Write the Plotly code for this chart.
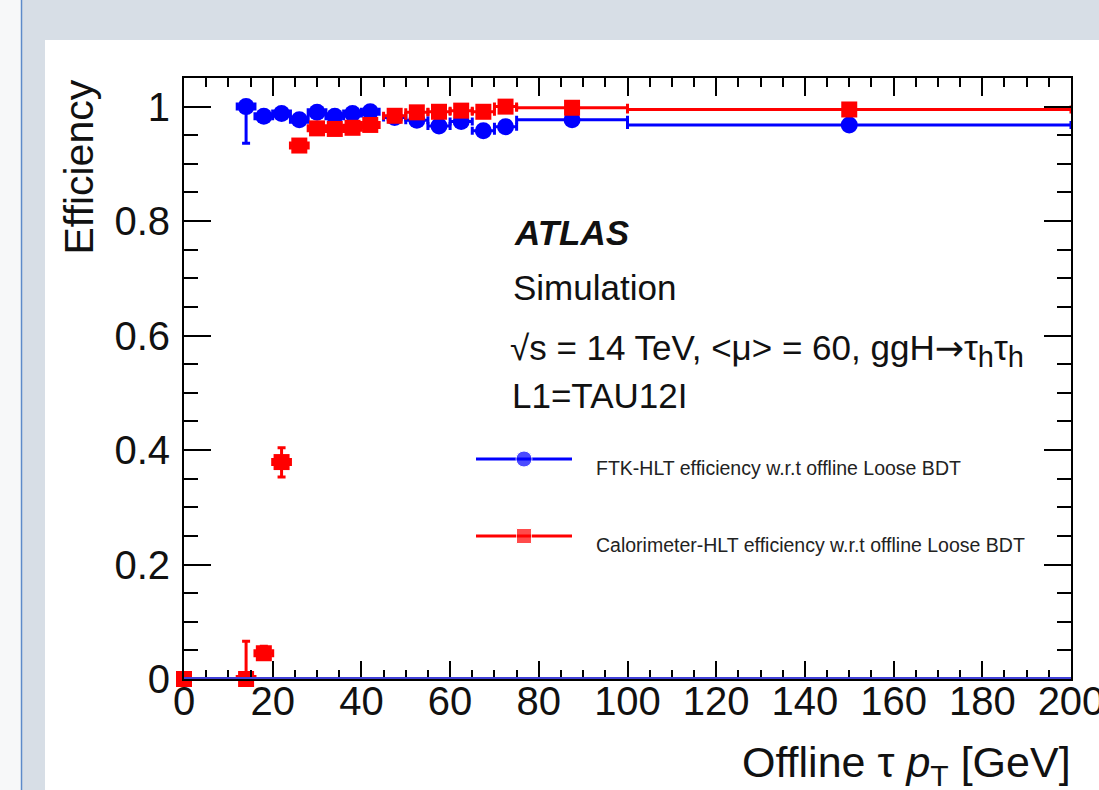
import plotly.graph_objects as go

# ---------------- data ----------------
ftk_pt = [14, 18, 22, 26, 30, 34, 38, 42, 47.5, 52.5, 57.5, 62.5, 67.5, 72.5, 87.5, 150]
ftk_pt_halfwidth = [2, 2, 2, 2, 2, 2, 2, 2, 2.5, 2.5, 2.5, 2.5, 2.5, 2.5, 12.5, 50]
ftk_eff = [1.0, 0.983, 0.988, 0.977, 0.990, 0.983, 0.988, 0.991, 0.981, 0.976,
           0.966, 0.974, 0.958, 0.965, 0.977, 0.968]
ftk_err_lo = [0.064, 0.006, 0.005, 0.006, 0.004, 0.004, 0.004, 0.004, 0.005, 0.005,
              0.006, 0.006, 0.010, 0.008, 0.004, 0.006]
ftk_err_hi = [0.0, 0.005, 0.004, 0.005, 0.004, 0.004, 0.004, 0.004, 0.005, 0.005,
              0.006, 0.006, 0.009, 0.008, 0.004, 0.005]

calo_pt = [0, 14, 18, 22, 26, 30, 34, 38, 42, 47.5, 52.5, 57.5, 62.5, 67.5, 72.5, 87.5, 150]
calo_pt_halfwidth = [0, 2, 2, 2, 2, 2, 2, 2, 2, 2.5, 2.5, 2.5, 2.5, 2.5, 2.5, 12.5, 50]
calo_eff = [0.0, 0.0, 0.045, 0.379, 0.932, 0.962, 0.961, 0.963, 0.968, 0.984, 0.990,
            0.991, 0.993, 0.991, 1.0, 0.998, 0.995]
calo_err_lo = [0.0, 0.0, 0.010, 0.026, 0.008, 0.006, 0.006, 0.005, 0.005, 0.004, 0.004,
               0.004, 0.004, 0.004, 0.002, 0.002, 0.002]
calo_err_hi = [0.0, 0.066, 0.012, 0.025, 0.008, 0.006, 0.006, 0.005, 0.005, 0.004, 0.004,
               0.004, 0.004, 0.004, 0.0, 0.002, 0.002]

x_ticks = [0, 20, 40, 60, 80, 100, 120, 140, 160, 180, 200]
y_ticks = [0, 0.2, 0.4, 0.6, 0.8, 1.0]
y_tick_labels = ["0", "0.2", "0.4", "0.6", "0.8", "1"]

legend_labels = ["FTK-HLT efficiency w.r.t offline Loose BDT",
                 "Calorimeter-HLT efficiency w.r.t offline Loose BDT"]

BLUE = "#0000ff"
RED = "#ff0000"
FONT = "Liberation Sans, Arial, Helvetica, sans-serif"

# ---------------- layout geometry (pixels) ----------------
W, H = 1099, 790
L, R, T, B = 184, 1071, 78, 679
pw, ph = R - L, B - T


def px(xp):
    return (xp - L) / pw


def py(yp):
    return (B - yp) / ph


fig = go.Figure()

fig.add_trace(go.Scatter(
    x=ftk_pt, y=ftk_eff, mode="markers", name=legend_labels[0],
    marker=dict(symbol="circle", size=17, color=BLUE),
    error_x=dict(type="data", array=ftk_pt_halfwidth, color=BLUE, thickness=3, width=4),
    error_y=dict(type="data", symmetric=False, array=ftk_err_hi, arrayminus=ftk_err_lo,
                 color=BLUE, thickness=3, width=4),
    showlegend=False, cliponaxis=True,
))

fig.add_trace(go.Scatter(
    x=calo_pt, y=calo_eff, mode="markers", name=legend_labels[1],
    marker=dict(symbol="square", size=16, color=RED),
    error_x=dict(type="data", array=calo_pt_halfwidth, color=RED, thickness=3, width=4),
    error_y=dict(type="data", symmetric=False, array=calo_err_hi, arrayminus=calo_err_lo,
                 color=RED, thickness=3, width=4),
    showlegend=False, cliponaxis=False,
))

# manual legend on an overlaid unit axis
leg_x = [px(476), px(524), px(572)]
for col, sym, ypix in [(BLUE, "circle", 459), (RED, "square", 536)]:
    fig.add_trace(go.Scatter(
        x=leg_x, y=[py(ypix)] * 3, xaxis="x2", yaxis="y2", mode="lines+markers",
        line=dict(color=col, width=3),
        marker=dict(symbol=sym, size=[0, 15 if sym == "square" else 16, 0], color=col),
        showlegend=False, hoverinfo="skip",
    ))

shapes = [
    # white panel
    dict(type="rect", xref="paper", yref="paper", x0=px(45), x1=px(1120), y0=py(820), y1=py(40),
         fillcolor="white", line=dict(width=0), layer="below"),
    # left strip
    dict(type="rect", xref="paper", yref="paper", x0=px(-20), x1=px(21), y0=py(820), y1=py(-20),
         fillcolor="#f7f8f9", line=dict(width=0), layer="below"),
    dict(type="line", xref="paper", yref="paper", x0=px(21.5), x1=px(21.5), y0=py(820), y1=py(-20),
         line=dict(color="#5d8ac9", width=1.5), layer="below"),
    # blue line along zero
    dict(type="line", xref="x", yref="y", x0=0, x1=200, y0=0, y1=0,
         line=dict(color="#4040d8", width=4), layer="above"),
]

ARROW = '<span style="font-family:DejaVu Sans">→</span>'
SUBH = '<sub><span style="font-size:29px">h</span></sub>'
annotations = [
    dict(text="<b><i>ATLAS</i></b>", x=px(512), y=py(232)),
    dict(text="Simulation", x=px(511), y=py(287)),
    dict(text="√s = 14 TeV, <μ> = 60, ggH" + ARROW + "τ" + SUBH + "τ" + SUBH,
         x=px(508), y=py(350)),
    dict(text="L1=TAU12I", x=px(510), y=py(395)),
]
for a in annotations:
    a.update(xref="paper", yref="paper", xanchor="left", yanchor="middle", showarrow=False,
             font=dict(family=FONT, size=35, color="#111111"))

annotations += [
    dict(text=legend_labels[0], x=px(594), y=py(468), xref="paper", yref="paper",
         xanchor="left", yanchor="middle", showarrow=False,
         font=dict(family=FONT, size=19.5, color="#222222")),
    dict(text=legend_labels[1], x=px(594), y=py(545), xref="paper", yref="paper",
         xanchor="left", yanchor="middle", showarrow=False,
         font=dict(family=FONT, size=19.5, color="#222222")),
    # axis titles
    dict(text="Efficiency", x=px(78), y=py(78), xref="paper", yref="paper",
         xanchor="center", yanchor="top", textangle=-90, showarrow=False,
         font=dict(family=FONT, size=41, color="#111111")),
    dict(text="Offline τ <i>p</i><sub>T</sub> [GeV]", x=px(1073), y=py(736), xref="paper",
         yref="paper", xanchor="right", yanchor="top", showarrow=False,
         font=dict(family=FONT, size=43, color="#111111")),
]

axis_common = dict(showgrid=False, zeroline=False, showline=True, linecolor="black", linewidth=2,
                   mirror="allticks", ticks="inside", tickcolor="black", tickwidth=1.5,
                   automargin=False,
                   tickfont=dict(family=FONT, size=40, color="#111111"))

fig.update_layout(
    width=W, height=H, autosize=False,
    margin=dict(l=L, r=W - R, t=T, b=H - B, pad=0, autoexpand=False),
    paper_bgcolor="#d7dee6", plot_bgcolor="white",
    xaxis=dict(range=[0, 200], tickvals=x_ticks, ticklen=18, ticklabelstandoff=-14,
               ticklabeloverflow="allow",
               minor=dict(dtick=5, ticklen=9, ticks="inside", tickcolor="black", tickwidth=1.5),
               **axis_common),
    yaxis=dict(range=[0, 1.05], tickvals=y_ticks, ticktext=y_tick_labels, ticklen=27,
               ticklabelstandoff=4, ticklabeloverflow="allow",
               minor=dict(dtick=0.05, ticklen=14, ticks="inside", tickcolor="black", tickwidth=1.5),
               **axis_common),
    xaxis2=dict(range=[0, 1], overlaying="x", visible=False, anchor="y2"),
    yaxis2=dict(range=[0, 1], overlaying="y", visible=False, anchor="x2"),
    shapes=shapes, annotations=annotations, showlegend=False,
)

fig.write_html(
    "out.html",
    config={"responsive": False, "displayModeBar": False},
    post_script="document.body.style.margin='0';document.body.style.overflow='hidden';",
)
